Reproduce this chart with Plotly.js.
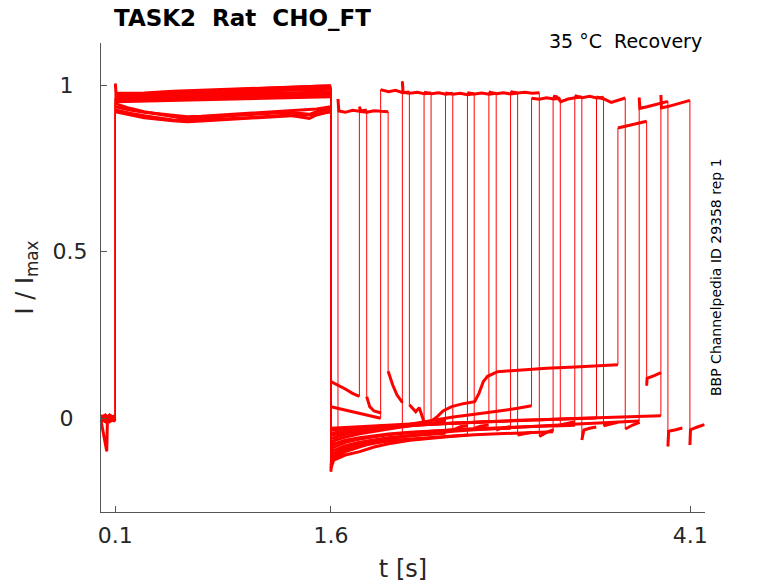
<!DOCTYPE html>
<html>
<head>
<meta charset="utf-8">
<script src="https://cdn.plot.ly/plotly-3.0.1.min.js"></script>
<style>
  body { margin: 0; background: #fff; }
  #plot { width: 778px; height: 583px; }
</style>
</head>
<body>
<div id="plot"></div>
<script>
// Recovery sweeps, [t (s), I / Imax] knots.
// hold 0-0.1, conditioning 0.1-1.6, recovery interval, test pulse (0.2 s), tail (0.1 s)
const s01 = [[0,0.004],[0.03,-0.006],[0.06,0.008],[0.1,-0.002],
  [0.1,1.004],[0.105,0.972],[0.3,0.974],[0.5,0.979],[0.7,0.982],[0.9,0.986],[1.1,0.99],[1.3,0.993],[1.5,0.996],[1.6,0.997],
  [1.6,-0.16],[1.61,-0.07],[1.649,-0.06],
  [1.649,0.958],[1.655,0.922],[1.7,0.918],[1.75,0.924],[1.8,0.921],[1.849,0.925],
  [1.849,0.065],[1.87,0.035],[1.9,0.022],[1.949,0.016]]
const s02 = [[0,-0.003],[0.03,0.007],[0.06,-0.005],[0.1,0.003],
  [0.1,0.944],[0.2,0.93],[0.3,0.92],[0.5,0.905],[0.6,0.898],[0.7,0.9],[0.9,0.908],[1.1,0.913],[1.3,0.918],[1.45,0.912],[1.5,0.92],[1.6,0.93],
  [1.6,0.11],[1.65,0.1],[1.7,0.088],[1.75,0.075],[1.798,0.066],
  [1.798,0.935],[1.81,0.92],[1.85,0.918],[1.9,0.923],[1.95,0.921],[1.998,0.92],
  [1.998,0.141],[2.03,0.1],[2.06,0.07],[2.098,0.047]]
const s03 = [[0,0.008],[0.03,-0.004],[0.06,0.002],[0.1,0.006],
  [0.1,0.968],[0.3,0.97],[0.5,0.973],[0.7,0.977],[0.9,0.981],[1.1,0.985],[1.3,0.988],[1.5,0.99],[1.6,0.991],
  [1.6,0.035],[1.7,0.025],[1.8,0.015],[1.9,0.005],[1.946,0.0],
  [1.946,0.986],[2.0,0.98],[2.05,0.984],[2.1,0.977],[2.146,0.979],
  [2.146,0.041],[2.19,0.02],[2.215,0.032],[2.246,-0.009]]
const s04 = [[0,-0.007],[0.04,-0.099],[0.045,0.002],[0.07,-0.004],[0.1,0.004],
  [0.1,0.963],[0.3,0.964],[0.5,0.966],[0.7,0.969],[0.9,0.972],[1.1,0.974],[1.3,0.976],[1.5,0.978],[1.6,0.979],
  [1.6,-0.14],[1.62,-0.12],[1.7,-0.1],[1.8,-0.085],[1.9,-0.072],[2.0,-0.062],[2.097,-0.055],
  [2.097,1.011],[2.102,0.978],[2.15,0.975],[2.2,0.978],[2.25,0.974],[2.297,0.976],
  [2.297,-0.02],[2.33,-0.012],[2.397,-0.008]]
const s05 = [[0,0.002],[0.03,0.01],[0.06,-0.008],[0.1,0.001],
  [0.1,0.956],[0.3,0.958],[0.5,0.96],[0.7,0.962],[0.9,0.963],[1.1,0.965],[1.3,0.967],[1.5,0.968],[1.6,0.969],
  [1.6,-0.03],[1.7,-0.028],[1.8,-0.026],[1.9,-0.023],[2.0,-0.02],[2.1,-0.018],[2.248,-0.015],
  [2.248,0.978],[2.3,0.974],[2.35,0.977],[2.4,0.972],[2.448,0.975],
  [2.448,-0.035],[2.5,-0.025],[2.548,-0.022]]
const s06 = [[0,-0.01],[0.03,0.003],[0.06,0.006],[0.1,-0.006],
  [0.1,0.975],[0.3,0.976],[0.5,0.981],[0.7,0.984],[0.9,0.988],[1.1,0.991],[1.3,0.994],[1.5,0.997],[1.6,0.998],
  [1.6,-0.1],[1.65,-0.09],[1.7,-0.082],[1.8,-0.072],[1.9,-0.064],[2.0,-0.058],[2.15,-0.052],[2.3,-0.047],[2.397,-0.045],
  [2.397,0.976],[2.45,0.972],[2.5,0.975],[2.55,0.971],[2.597,0.974],
  [2.597,-0.03],[2.64,-0.024],[2.697,-0.02]]
const s07 = [[0,0.006],[0.03,-0.009],[0.06,0.004],[0.1,-0.003],
  [0.1,0.966],[0.3,0.968],[0.5,0.971],[0.7,0.975],[0.9,0.979],[1.1,0.983],[1.3,0.986],[1.5,0.988],[1.6,0.99],
  [1.6,-0.12],[1.65,-0.105],[1.7,-0.095],[1.8,-0.083],[1.9,-0.075],[2.0,-0.068],[2.15,-0.062],[2.3,-0.057],[2.45,-0.053],[2.55,-0.05],
  [2.55,0.977],[2.6,0.973],[2.65,0.976],[2.7,0.972],[2.75,0.975],
  [2.75,-0.035],[2.8,-0.028],[2.85,-0.025]]
const s08 = [[0,0.001],[0.03,0.005],[0.06,-0.01],[0.1,0.002],
  [0.1,0.925],[0.2,0.915],[0.3,0.908],[0.5,0.895],[0.6,0.892],[0.7,0.894],[0.9,0.9],[1.1,0.904],[1.3,0.91],[1.45,0.9],[1.5,0.91],[1.6,0.922],
  [1.6,-0.05],[1.7,-0.042],[1.8,-0.036],[1.9,-0.031],[2.0,-0.027],[2.15,-0.022],[2.3,-0.018],[2.45,-0.015],[2.6,-0.012],[2.699,-0.01],
  [2.699,0.979],[2.75,0.974],[2.8,0.977],[2.85,0.973],[2.899,0.976],
  [2.899,-0.05],[2.95,-0.046],[2.999,-0.042]]
const s09 = [[0,-0.005],[0.03,0.002],[0.06,0.009],[0.1,-0.007],
  [0.1,0.96],[0.3,0.962],[0.5,0.965],[0.7,0.968],[0.9,0.97],[1.1,0.973],[1.3,0.975],[1.5,0.976],[1.6,0.977],
  [1.6,-0.08],[1.65,-0.072],[1.7,-0.066],[1.8,-0.058],[1.9,-0.052],[2.0,-0.047],[2.15,-0.042],[2.3,-0.038],[2.45,-0.035],[2.6,-0.033],[2.75,-0.031],[2.85,-0.03],
  [2.85,0.98],[2.9,0.976],[2.95,0.978],[3.0,0.975],[3.05,0.977],
  [3.05,-0.054],[3.1,-0.042],[3.15,-0.034]]
const s10 = [[0,0.009],[0.03,-0.002],[0.06,-0.006],[0.1,0.005],
  [0.1,0.953],[0.3,0.955],[0.5,0.957],[0.7,0.96],[0.9,0.962],[1.1,0.963],[1.3,0.965],[1.5,0.966],[1.6,0.967],
  [1.6,-0.06],[1.7,-0.048],[1.8,-0.04],[1.9,-0.033],[2.0,-0.027],[2.15,-0.018],[2.3,-0.006],[2.45,0.004],[2.6,0.012],[2.75,0.02],[2.9,0.03],[2.996,0.038],
  [2.996,0.96],[3.05,0.957],[3.1,0.962],[3.15,0.958],[3.196,0.96],
  [3.196,-0.02],[3.25,-0.014],[3.296,-0.01]]
const s11 = [[0,-0.002],[0.03,-0.01],[0.06,0.005],[0.1,0.0],
  [0.1,0.935],[0.2,0.925],[0.3,0.918],[0.5,0.91],[0.6,0.905],[0.7,0.906],[0.9,0.912],[1.1,0.918],[1.3,0.922],[1.5,0.928],[1.6,0.935],
  [1.6,-0.15],[1.62,-0.125],[1.7,-0.11],[1.8,-0.1],[1.9,-0.086],[2.0,-0.076],[2.15,-0.066],[2.3,-0.059],[2.45,-0.054],[2.6,-0.049],[2.75,-0.046],[2.9,-0.043],[3.05,-0.041],[3.146,-0.04],
  [3.146,0.966],[3.17,0.965],[3.2,0.95],[3.25,0.958],[3.3,0.962],[3.346,0.964],
  [3.346,-0.065],[3.36,-0.035],[3.4,-0.03],[3.446,-0.026]]
const s12 = [[0,0.003],[0.03,0.008],[0.06,-0.004],[0.1,-0.008],
  [0.1,0.97],[0.3,0.973],[0.5,0.978],[0.7,0.981],[0.9,0.985],[1.1,0.988],[1.3,0.991],[1.5,0.994],[1.6,0.995],
  [1.6,-0.09],[1.65,-0.08],[1.7,-0.072],[1.8,-0.062],[1.9,-0.055],[2.0,-0.049],[2.15,-0.043],[2.3,-0.038],[2.45,-0.034],[2.6,-0.031],[2.75,-0.028],[2.9,-0.026],[3.05,-0.024],[3.2,-0.022],[3.297,-0.021],
  [3.297,0.968],[3.35,0.962],[3.4,0.966],[3.45,0.961],[3.497,0.963],
  [3.497,-0.022],[3.55,-0.016],[3.597,-0.012]]
const s13 = [[0,-0.008],[0.03,0.004],[0.06,0.001],[0.1,0.008],
  [0.1,0.964],[0.3,0.966],[0.5,0.97],[0.7,0.974],[0.9,0.978],[1.1,0.981],[1.3,0.984],[1.5,0.986],[1.6,0.987],
  [1.6,-0.035],[1.7,-0.031],[1.8,-0.028],[1.9,-0.025],[2.0,-0.022],[2.15,-0.019],[2.3,-0.016],[2.45,-0.013],[2.6,-0.01],[2.75,-0.008],[2.9,-0.006],[3.05,-0.004],[3.2,-0.002],[3.35,0.0],[3.448,0.001],
  [3.448,0.964],[3.5,0.958],[3.55,0.948],[3.6,0.954],[3.648,0.961],
  [3.648,-0.032],[3.7,-0.02],[3.748,-0.012]]
const s14 = [[0,0.005],[0.03,-0.007],[0.06,0.01],[0.1,-0.001],
  [0.1,0.92],[0.2,0.91],[0.3,0.902],[0.5,0.893],[0.6,0.89],[0.7,0.892],[0.9,0.897],[1.1,0.9],[1.3,0.906],[1.5,0.912],[1.6,0.92],
  [1.6,-0.07],[1.7,-0.056],[1.8,-0.046],[1.9,-0.038],[2.0,-0.032],[2.15,-0.022],[2.3,-0.008],[2.34,0.005],[2.38,0.022],[2.44,0.035],[2.52,0.044],[2.6,0.05],[2.63,0.075],[2.66,0.11],[2.69,0.126],[2.76,0.14],[2.95,0.146],[3.1,0.15],[3.3,0.154],[3.45,0.157],[3.597,0.161],
  [3.597,0.871],[3.65,0.876],[3.7,0.882],[3.75,0.886],[3.797,0.891],
  [3.797,0.098],[3.8,0.12],[3.85,0.128],[3.897,0.137]]
const s15 = [[0,-0.004],[0.03,0.006],[0.06,-0.002],[0.1,0.004],
  [0.1,0.958],[0.3,0.96],[0.5,0.963],[0.7,0.966],[0.9,0.968],[1.1,0.97],[1.3,0.972],[1.5,0.973],[1.6,0.974],
  [1.6,-0.11],[1.65,-0.098],[1.7,-0.088],[1.8,-0.076],[1.9,-0.067],[2.0,-0.06],[2.15,-0.052],[2.3,-0.045],[2.45,-0.039],[2.6,-0.034],[2.75,-0.03],[2.9,-0.026],[3.05,-0.023],[3.2,-0.019],[3.35,-0.016],[3.5,-0.013],[3.65,-0.01],[3.745,-0.008],
  [3.745,0.962],[3.75,0.93],[3.8,0.935],[3.85,0.94],[3.9,0.946],[3.945,0.951],
  [3.945,-0.084],[3.95,-0.039],[4.0,-0.034],[4.045,-0.029]]
const s16 = [[0,0.007],[0.03,-0.003],[0.06,0.004],[0.1,-0.005],
  [0.1,0.95],[0.3,0.952],[0.5,0.955],[0.7,0.958],[0.9,0.96],[1.1,0.962],[1.3,0.963],[1.5,0.964],[1.6,0.965],
  [1.6,-0.045],[1.7,-0.038],[1.8,-0.033],[1.9,-0.029],[2.0,-0.026],[2.15,-0.022],[2.3,-0.018],[2.45,-0.015],[2.6,-0.012],[2.75,-0.009],[2.9,-0.006],[3.05,-0.004],[3.2,-0.002],[3.35,0.0],[3.5,0.002],[3.65,0.004],[3.8,0.006],[3.896,0.008],
  [3.896,0.97],[3.9,0.931],[3.95,0.936],[4.0,0.942],[4.05,0.948],[4.098,0.954],
  [4.098,-0.08],[4.102,-0.034],[4.15,-0.026],[4.198,-0.019]]

const sweeps = [s01, s02, s03, s04, s05, s06, s07, s08, s09, s10, s11, s12, s13, s14, s15, s16]

const x_ticks = [0.1, 1.6, 4.1]
const x_tick_labels = ["0.1", "1.6", "4.1"]
const y_ticks = [0, 0.5, 1]
const y_tick_labels = ["0\u00a0\u00a0", "0.5", "1\u00a0\u00a0"]

const red = '#ff0000'
const axis_grey = '#555555'
const label_grey = '#262626'
const font_family = '"DejaVu Sans", "Liberation Sans", sans-serif'

let data = []
sweeps.forEach(s => {
    // full path, thin, so the steps stay hairlines
    data.push({type: 'scatter', mode: 'lines', x: s.map(p => p[0]), y: s.map(p => p[1]),
               line: {color: red, width: 1}, hoverinfo: 'skip', showlegend: false})

    // flat parts heavier (recorded noise), broken at the steps
    let tx = [], iy = []
    s.forEach((p, k) => {
        if (k > 0 && p[0] === s[k - 1][0]) { tx.push(null); iy.push(null) }
        tx.push(p[0]); iy.push(p[1])
    })
    data.push({type: 'scatter', mode: 'lines', x: tx, y: iy, connectgaps: false,
               line: {color: red, width: 3}, hoverinfo: 'skip', showlegend: false})
})

const layout = {
    width: 778, height: 583,
    paper_bgcolor: '#ffffff', plot_bgcolor: '#ffffff',
    margin: {l: 101, r: 73, t: 43, b: 71},
    font: {family: font_family, color: label_grey},
    showlegend: false,
    title: {text: 'TASK2\u00a0 Rat\u00a0 CHO_FT', xref: 'container', yref: 'container',
            x: 114 / 778, xanchor: 'left', y: 1 - 18 / 583, yanchor: 'middle',
            font: {family: font_family, size: 23, color: '#000000', weight: 'bold'}},
    xaxis: {range: [0, 4.203], tickvals: x_ticks, ticktext: x_tick_labels,
            ticks: 'inside', ticklen: 6, tickcolor: axis_grey, tickwidth: 1,
            showline: true, linecolor: axis_grey, linewidth: 1, mirror: false,
            showgrid: false, zeroline: false, ticklabelstandoff: 4,
            tickfont: {size: 22, color: label_grey},
            title: {text: 't [s]', font: {size: 24, color: label_grey}, standoff: 16}},
    yaxis: {range: [-0.281, 1.126], tickvals: y_ticks, ticktext: y_tick_labels,
            ticks: 'inside', ticklen: 6, tickcolor: axis_grey, tickwidth: 1,
            showline: true, linecolor: axis_grey, linewidth: 1, mirror: false,
            showgrid: false, zeroline: false, ticklabelstandoff: 8,
            tickfont: {size: 22, color: label_grey},
            title: {text: 'I / I<sub>max</sub>', font: {size: 24, color: label_grey}, standoff: 12}},
    annotations: [
        {text: '35 °C\u00a0 Recovery', xref: 'paper', yref: 'paper',
         x: (704 - 101) / 604, xanchor: 'right', y: (512 - 41) / 469, yanchor: 'middle',
         showarrow: false, font: {family: font_family, size: 19, color: '#000000'}},
        {text: 'BBP Channelpedia ID 29358 rep 1', xref: 'paper', yref: 'paper',
         x: (716 - 101) / 604, xanchor: 'center', y: (512 - 277) / 469, yanchor: 'middle', textangle: -90,
         showarrow: false, font: {family: font_family, size: 14, color: '#000000'}}
    ]
}

let plot = document.getElementById("plot")
Plotly.newPlot(plot, data, layout, {displayModeBar: false, staticPlot: true})
</script>
</body>
</html>
